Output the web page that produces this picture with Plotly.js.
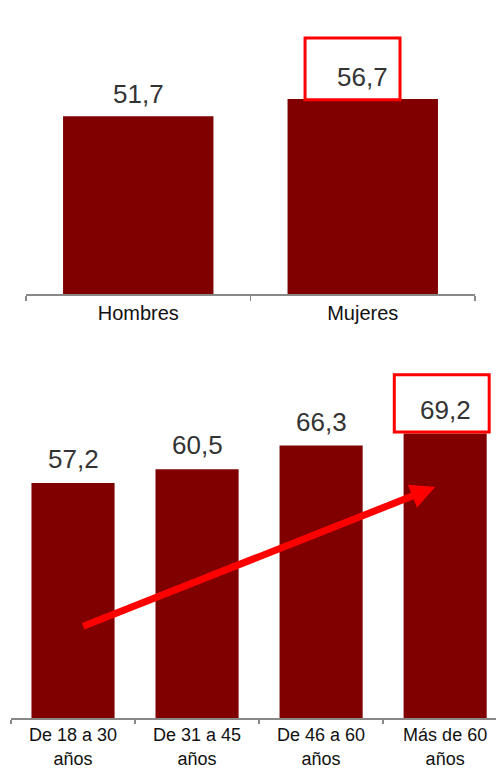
<!DOCTYPE html>
<html>
<head>
<meta charset="utf-8">
<script src="https://cdn.plot.ly/plotly-3.0.1.min.js"></script>
<style>html,body{margin:0;padding:0;background:#fff;}#chart{width:496px;height:768px;}</style>
</head>
<body>
<div id="chart"></div>
<script>
// Data
var sexCategories = ['Hombres', 'Mujeres'];
var sexValues = [51.7, 56.7];
var ageCategories = ['De 18 a 30<br>años', 'De 31 a 45<br>años', 'De 46 a 60<br>años', 'Más de 60<br>años'];
var ageValues = [57.2, 60.5, 66.3, 69.2];
var sexHighlight = 1;
var ageHighlight = 3;

function fmt(v) { return v.toFixed(1).replace('.', ','); }

var barColor = '#800000';
var labelFont = {family: 'Liberation Sans, Arial, sans-serif', size: 26, color: '#333333'};
var tickFont = {family: 'Liberation Sans, Arial, sans-serif', size: 20, color: '#111111'};
var tickFont2 = {family: 'Liberation Sans, Arial, sans-serif', size: 18, color: '#111111'};

var traces = [
  {type: 'bar', x: sexCategories, y: sexValues, xaxis: 'x', yaxis: 'y', marker: {color: barColor}, hoverinfo: 'none'},
  {type: 'bar', x: ageCategories, y: ageValues, xaxis: 'x2', yaxis: 'y2', marker: {color: barColor}, hoverinfo: 'none'}
];

var annotations = [];
sexValues.forEach(function (v, i) {
  annotations.push({xref: 'x', yref: 'y', x: sexCategories[i], y: v, text: fmt(v), showarrow: false,
    yanchor: 'middle', yshift: 22, font: labelFont});
});
ageValues.forEach(function (v, i) {
  annotations.push({xref: 'x2', yref: 'y2', x: ageCategories[i], y: v, text: fmt(v), showarrow: false,
    yanchor: 'middle', yshift: 24, font: labelFont});
});
// trend arrow
annotations.push({xref: 'x2', yref: 'y2', axref: 'x2', ayref: 'y2',
  x: 2.92, y: 56.2, ax: 0.07, ay: 22.2, text: '', showarrow: true,
  arrowhead: 2, arrowsize: 0.7, arrowwidth: 7, arrowcolor: '#ff0000'});

var shapes = [
  {type: 'rect', xref: 'x', yref: 'y', x0: sexHighlight - 0.257, x1: sexHighlight + 0.166,
   y0: sexValues[sexHighlight] - 0.2, y1: sexValues[sexHighlight] + 17.8, line: {color: '#ff0000', width: 3}},
  {type: 'rect', xref: 'x2', yref: 'y2', x0: ageHighlight - 0.41, x1: ageHighlight + 0.355,
   y0: ageValues[ageHighlight] + 0.4, y1: ageValues[ageHighlight] + 14.3, line: {color: '#ff0000', width: 3}}
];

var axisCommon = {showgrid: false, zeroline: false, showline: true, linecolor: '#888888', linewidth: 1.5,
  ticks: 'outside', tickson: 'boundaries', ticklen: 5, tickcolor: '#888888', tickwidth: 1.5,
  tickfont: tickFont, fixedrange: true};

// bottom panel: 4.11 px per unit, axis at 718px
var y2max = 90;
var y2top = 718 - y2max * 4.11;

var layout = {
  width: 496, height: 768,
  margin: {l: 0, r: 0, t: 0, b: 0},
  paper_bgcolor: '#ffffff', plot_bgcolor: '#ffffff',
  showlegend: false,
  bargap: 0.33,
  xaxis: Object.assign({}, axisCommon, {domain: [26 / 496, 475 / 496], anchor: 'y'}),
  yaxis: {domain: [1 - 294 / 768, 1 - 19 / 768], range: [0, 80], visible: false, anchor: 'x'},
  xaxis2: Object.assign({}, axisCommon, {domain: [11 / 496, 1], range: [-0.5, 3.41], anchor: 'y2', tickfont: tickFont2, ticklen: 4}),
  yaxis2: {domain: [1 - 718 / 768, 1 - y2top / 768], range: [0, y2max], visible: false, anchor: 'x2'},
  annotations: annotations,
  shapes: shapes
};

Plotly.newPlot('chart', traces, layout, {displayModeBar: false, staticPlot: true});
</script>
</body>
</html>
